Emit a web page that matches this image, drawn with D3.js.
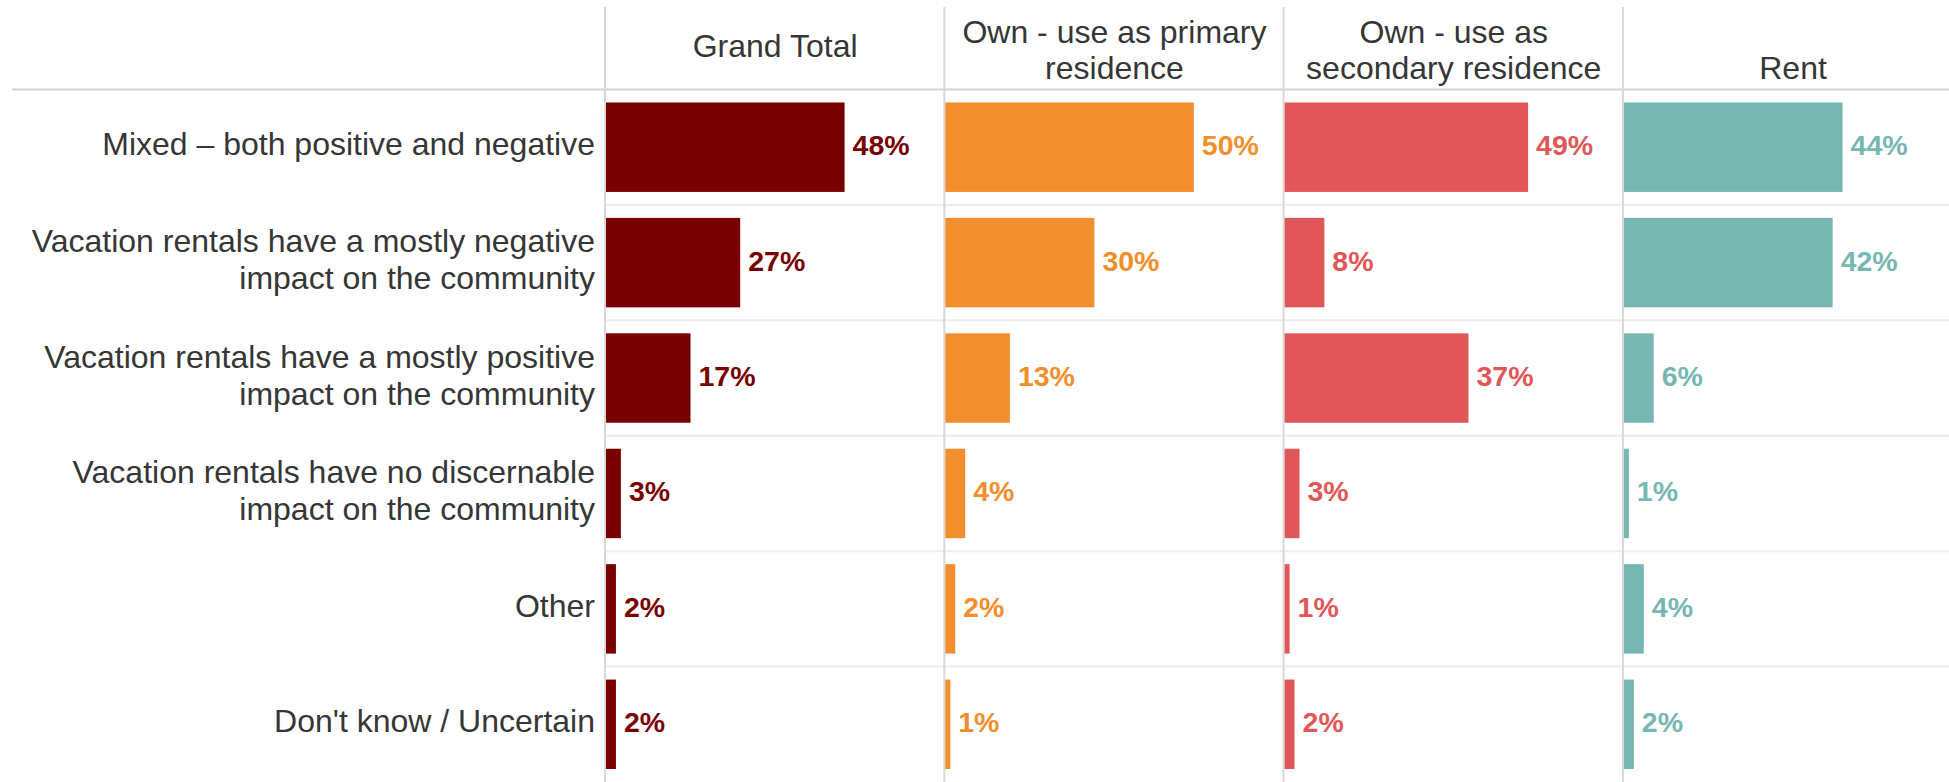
<!DOCTYPE html>
<html>
<head>
<meta charset="utf-8">
<script src="https://cdn.jsdelivr.net/npm/d3@7"></script>
<style>
  html, body { margin: 0; padding: 0; background: #ffffff; }
  svg { display: block; }
  text { font-family: "Liberation Sans", Arial, sans-serif; }
</style>
</head>
<body>
<svg id="chart" width="1949" height="782"></svg>
<script>
// Survey answers (rows)
const categories = [
  "Mixed \u2013 both positive and negative",
  "Vacation rentals have a mostly negative impact on the community",
  "Vacation rentals have a mostly positive impact on the community",
  "Vacation rentals have no discernable impact on the community",
  "Other",
  "Don't know / Uncertain"
];

// Respondent groups (columns)
const groups = [
  "Grand Total",
  "Own - use as primary residence",
  "Own - use as secondary residence",
  "Rent"
];

// Share of respondents per answer, in percent
const grandTotal = [48, 27, 17, 3, 2, 2];
const ownPrimary = [50, 30, 13, 4, 2, 1];
const ownSecondary = [49, 8, 37, 3, 1, 2];
const rent = [44, 42, 6, 1, 4, 2];

const groupColors = ["#780000", "#f28e2b", "#e15759", "#76b7b2"];

const seriesValues = [grandTotal, ownPrimary, ownSecondary, rent];

const W = 1949, H = 782;
const headerBottom = 89.5;
const panelLeft = 605.5;
const panelWidth = 339.3;
const labelFont = 32;
const valueFont = 28.5;
const textColor = "#363636";

const svg = d3.select("#chart");

// Column (panel) scale
const xPanel = d3.scaleBand()
  .domain(groups)
  .range([panelLeft, panelLeft + panelWidth * groups.length])
  .padding(0);

// Bar length scale within one panel
const xVal = d3.scaleLinear().domain([0, 100]).range([0, 497]);

// Row scale: bands hold bars, step holds the whole row
const y = d3.scaleBand()
  .domain(categories)
  .range([headerBottom, H])
  .paddingInner(0.225)
  .paddingOuter(0.1125);

const step = y.step();
const rowTop = c => y(c) - step * 0.1125;
const rowCenter = c => y(c) + y.bandwidth() / 2;

// Row separators inside the panel area
svg.append("g")
  .selectAll("line")
  .data(categories.slice(1))
  .join("line")
  .attr("x1", panelLeft)
  .attr("x2", W)
  .attr("y1", c => rowTop(c))
  .attr("y2", c => rowTop(c))
  .attr("stroke", "#ececec")
  .attr("stroke-width", 2);

// Header underline
svg.append("line")
  .attr("x1", 12).attr("x2", W)
  .attr("y1", headerBottom).attr("y2", headerBottom)
  .attr("stroke", "#d3d3d3")
  .attr("stroke-width", 2);

// Panel dividers
svg.append("g")
  .selectAll("line")
  .data(groups)
  .join("line")
  .attr("x1", g => xPanel(g) - 0.5)
  .attr("x2", g => xPanel(g) - 0.5)
  .attr("y1", 7)
  .attr("y2", H)
  .attr("stroke", "#d8d8d8")
  .attr("stroke-width", 2);

// Word wrapping helper for svg text
function wrapLines(text, maxWidth, fontSize, weight) {
  const probe = svg.append("text")
    .attr("font-size", fontSize)
    .attr("font-weight", weight || "normal")
    .attr("visibility", "hidden");
  const words = text.split(" ");
  const lines = [];
  let cur = "";
  words.forEach(w => {
    const trial = cur ? cur + " " + w : w;
    probe.text(trial);
    if (cur && probe.node().getComputedTextLength() > maxWidth) {
      lines.push(cur);
      cur = w;
    } else {
      cur = trial;
    }
  });
  if (cur) lines.push(cur);
  probe.remove();
  return lines;
}

// Column headers
const lineGap = 36;
groups.forEach((g, i) => {
  const lines = wrapLines(g, 318, labelFont);
  const cx = xPanel(g) + panelWidth / 2;
  const t = svg.append("text")
    .attr("text-anchor", "middle")
    .attr("font-size", labelFont)
    .attr("fill", textColor);
  lines.forEach((ln, k) => {
    let base;
    if (i === 0) {
      base = 57 + (k - (lines.length - 1) / 2) * lineGap;
    } else {
      base = 79 - (lines.length - 1 - k) * lineGap;
    }
    t.append("tspan").attr("x", cx).attr("y", base).text(ln);
  });
});

// Row labels
const rowLineGap = 37;
categories.forEach(c => {
  const lines = wrapLines(c, 580, labelFont);
  const t = svg.append("text")
    .attr("text-anchor", "end")
    .attr("font-size", labelFont)
    .attr("fill", textColor);
  lines.forEach((ln, k) => {
    t.append("tspan")
      .attr("x", 595)
      .attr("y", rowCenter(c) + 8 + (k - (lines.length - 1) / 2) * rowLineGap)
      .text(ln);
  });
});

// Bars and value labels, one panel per group
groups.forEach((g, gi) => {
  const vals = seriesValues[gi];
  const rows = categories.map((c, ci) => ({ c, v: vals[ci] }));
  const panel = svg.append("g").attr("transform", `translate(${xPanel(g) + 0.5},0)`);

  panel.selectAll("rect")
    .data(rows)
    .join("rect")
    .attr("x", 0)
    .attr("y", d => y(d.c))
    .attr("width", d => xVal(d.v))
    .attr("height", y.bandwidth())
    .attr("fill", groupColors[gi]);

  panel.selectAll("text")
    .data(rows)
    .join("text")
    .attr("x", d => xVal(d.v) + 8)
    .attr("y", d => rowCenter(d.c) + 8)
    .attr("font-size", valueFont)
    .attr("font-weight", "bold")
    .attr("fill", groupColors[gi])
    .text(d => d.v + "%");
});
</script>
</body>
</html>
